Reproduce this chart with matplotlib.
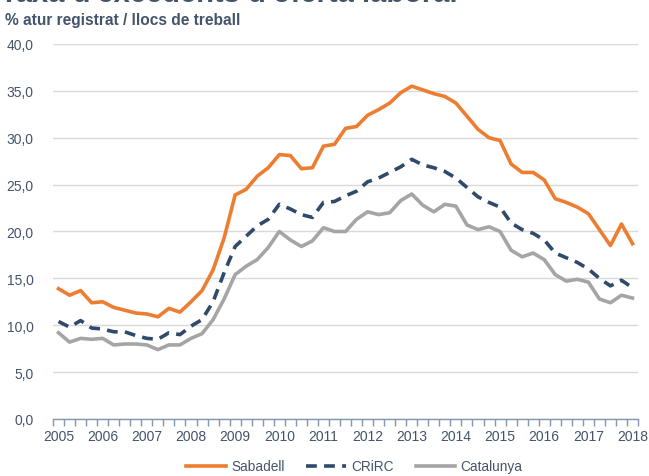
import numpy as np
import matplotlib
matplotlib.use("Agg")
import matplotlib.pyplot as plt

plt.rcParams['font.family'] = ['Liberation Sans', 'DejaVu Sans']

years = [str(y) for y in range(2005, 2019)]

# quarterly values, 2005 Q1 .. 2018 Q1
sabadell = [13.9, 13.2, 13.7, 12.4, 12.5, 11.9, 11.6, 11.3, 11.2, 10.9,
            11.8, 11.4, 12.5, 13.7, 15.9, 19.3, 23.9, 24.5, 25.9, 26.8,
            28.2, 28.1, 26.7, 26.8, 29.1, 29.3, 31.0, 31.2, 32.4, 33.0,
            33.7, 34.8, 35.5, 35.1, 34.7, 34.4, 33.7, 32.3, 30.9, 30.0,
            29.7, 27.2, 26.3, 26.3, 25.5, 23.5, 23.1, 22.6, 21.9, 20.2,
            18.5, 20.8, 18.7]
criric = [10.4, 9.8, 10.5, 9.7, 9.6, 9.3, 9.3, 8.9, 8.6, 8.5,
          9.2, 9.0, 9.9, 10.6, 12.5, 15.6, 18.4, 19.5, 20.6, 21.3,
          22.9, 22.4, 21.8, 21.5, 23.1, 23.2, 23.8, 24.3, 25.3, 25.7,
          26.3, 26.9, 27.7, 27.1, 26.8, 26.4, 25.7, 24.7, 23.7, 23.1,
          22.6, 20.9, 20.2, 19.8, 19.1, 17.7, 17.2, 16.7, 16.0, 15.0,
          14.2, 14.8, 14.0]
catalunya = [9.2, 8.2, 8.6, 8.5, 8.6, 7.9, 8.0, 8.0, 7.9, 7.4,
             7.9, 7.9, 8.6, 9.1, 10.6, 12.8, 15.4, 16.3, 17.0, 18.3,
             20.0, 19.1, 18.4, 19.0, 20.4, 20.0, 20.0, 21.3, 22.1, 21.8,
             22.0, 23.3, 24.0, 22.8, 22.1, 22.9, 22.7, 20.7, 20.2, 20.5,
             20.0, 18.0, 17.3, 17.7, 17.0, 15.4, 14.7, 14.9, 14.6, 12.8,
             12.4, 13.2, 12.9]

text_col = '#44546A'
x = np.arange(len(sabadell))

fig = plt.figure(figsize=(6.49, 4.77), dpi=100)
ax = fig.add_axes([0.0817, 0.1195, 0.9014, 0.7862])

ax.plot(x, sabadell, color='#ED7D31', lw=2.6, label='Sabadell', zorder=3)
ax.plot(x, criric, color='#2F4A6A', lw=2.6, ls=(0, (3, 2)), label='CRiRC', zorder=3)
ax.plot(x, catalunya, color='#A5A5A5', lw=2.6, label='Catalunya', zorder=3)

ax.set_xlim(-0.5, len(x) - 0.5)
ax.set_ylim(0, 40)
ax.set_yticks(np.arange(0, 41, 5))
ax.set_yticklabels([f'{v:.1f}'.replace('.', ',') for v in np.arange(0, 41, 5)])
ax.yaxis.grid(True, color='#D9D9D9', lw=1)
ax.set_axisbelow(True)
ax.tick_params(axis='y', length=0, pad=14, labelsize=10, labelcolor=text_col)

ax.set_xticks(np.arange(0, len(x), 4))
ax.set_xticklabels(years)
ax.set_xticks(np.arange(-0.5, len(x), 1), minor=True)
ax.tick_params(axis='x', which='major', length=0, pad=7, labelsize=10, labelcolor=text_col)
ax.tick_params(axis='x', which='minor', length=5, width=1, color='#8497B0', direction='out')

for s in ['top', 'right', 'left']:
    ax.spines[s].set_visible(False)
ax.spines['bottom'].set_color('#8497B0')
ax.spines['bottom'].set_linewidth(1)

# title is cropped at the top edge in the source image
fig.text(0.0, 0.996, "Taxa d'excedents d'oferta laboral", fontsize=21, fontweight='bold',
         color=text_col, ha='left', va='baseline')
fig.text(0.008, 0.958, '% atur registrat / llocs de treball', fontsize=11.2, fontweight='bold',
         color=text_col, ha='left', va='center')

leg = fig.legend(loc='center', bbox_to_anchor=(0.546, 0.02), ncol=3, frameon=False,
                 fontsize=9.8, handlelength=2.9, columnspacing=1.6, handletextpad=0.4)
for t in leg.get_texts():
    t.set_color(text_col)

fig.savefig('out.png', dpi=100)
